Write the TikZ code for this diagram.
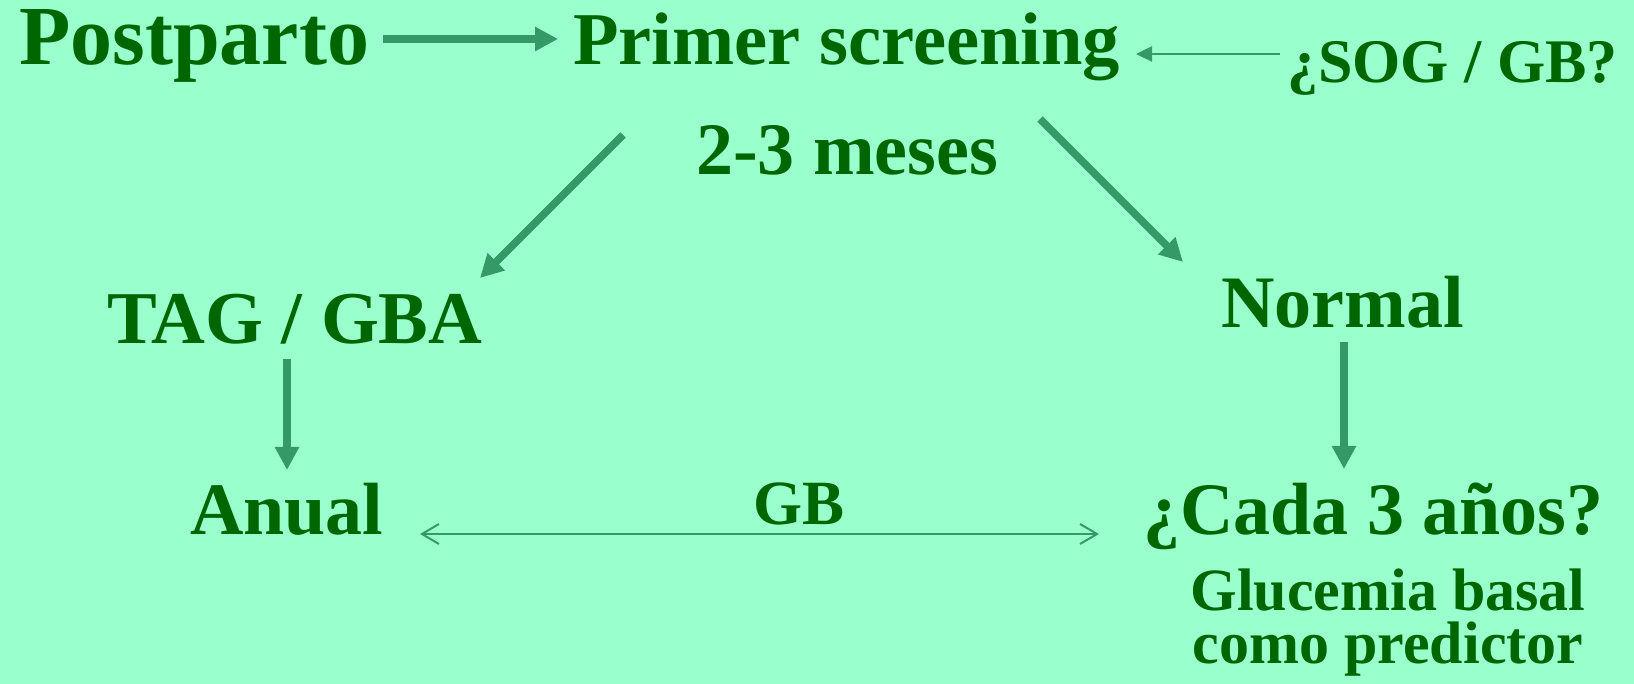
\documentclass[tikz,border=0pt]{standalone}
\usepackage{fontspec}
\setmainfont{Liberation Serif}
\usetikzlibrary{arrows.meta}
\definecolor{bg}{HTML}{99FFCC}
\definecolor{txt}{HTML}{006600}
\definecolor{arr}{HTML}{339966}
\tikzset{
  lbl/.style={anchor=base west, inner sep=0pt, text=txt, font=\bfseries},
  clbl/.style={anchor=base, inner sep=0pt, text=txt, font=\bfseries},
  thickarr/.style={draw=arr, line width=7.5pt, -{Triangle[length=23pt,width=23pt]}},
  thinarr/.style={draw=arr, line width=2.5pt, -{Triangle[length=16pt,width=15pt]}},
  twoway/.style={draw=arr, line width=2pt, {Straight Barb[length=17pt,width=20pt]}-{Straight Barb[length=17pt,width=20pt]}}
}
\newcommand{\fs}[1]{\fontsize{#1}{#1}\selectfont}
\begin{document}
\begin{tikzpicture}[x=1pt,y=-1pt]
\fill[bg] (0,0) rectangle (1634,684);
\useasboundingbox (0,0) rectangle (1634,684);

% text nodes
\node[lbl] (post) at (19,65) {\fs{84}Postparto};
\node[lbl] (prim) at (573,65) {\fs{74.5}Primer screening};
\node[lbl] (sog) at (1287,83) {\fs{62}¿SOG / GB?};
\node[lbl] (mes) at (696,175) {\fs{74}2-3 meses};
\node[lbl] (tag) at (107,344) {\fs{74.5}TAG / GBA};
\node[lbl] (norm) at (1221,328) {\fs{74}Normal};
\node[lbl] (anual) at (190,534) {\fs{74}Anual};
\node[lbl] (gb) at (753,524) {\fs{63}GB};
\node[lbl] (cada) at (1143,534) {\fs{74}¿Cada 3 años?};
\node[clbl] (gluc) at (1388,610) {\fs{60}Glucemia basal};
\node[clbl] (pred) at (1388,663) {\fs{60}como predictor};

% connector end points
\coordinate (a1s) at (383,39);  \coordinate (a1e) at (558,39);
\coordinate (a2s) at (1280,54); \coordinate (a2e) at (1136,54);
\coordinate (a3s) at (623,135); \coordinate (a3e) at (480,278);
\coordinate (a4s) at (1040,119);\coordinate (a4e) at (1183,262);
\coordinate (a5s) at (287,359); \coordinate (a5e) at (287,470);
\coordinate (a6s) at (1344,342);\coordinate (a6e) at (1344,469);
\coordinate (a7s) at (420,534); \coordinate (a7e) at (1099,534);

\draw[thickarr] (a1s) -- (a1e);
\draw[thinarr] (a2s) -- (a2e);
\draw[thickarr] (a3s) -- (a3e);
\draw[thickarr] (a4s) -- (a4e);
\draw[thickarr] (a5s) -- (a5e);
\draw[thickarr] (a6s) -- (a6e);
\draw[twoway] (a7s) -- (a7e);
\end{tikzpicture}
\end{document}
